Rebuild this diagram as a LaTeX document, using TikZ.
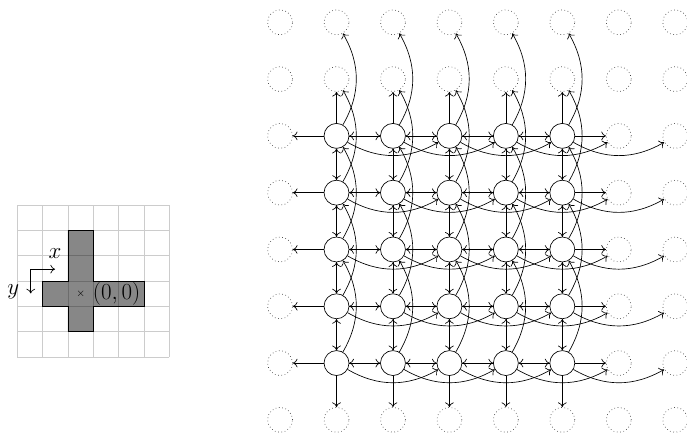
\documentclass[tikz,border=0pt]{standalone}
\usetikzlibrary{arrows.meta}

\begin{document}
\begin{tikzpicture}[->, >={To[length=3.5pt,width=6.5pt]}, line width=0.5pt, auto,
  site/.style={circle, draw, minimum size=0.66cm, inner sep=0pt},
  ghost/.style={site, dotted, draw=black!75}]
\useasboundingbox (0,0) rectangle (18.17,-11.48);

% stencil on the left
\begin{scope}[shift={(0.458,-5.423)}, scale=0.67, -, font=\fontsize{16.5}{19}\selectfont]
\draw[black!20] (0,0) grid (6,-6);
\draw[fill=black, fill opacity=0.47] (2,-1) -- (3,-1) -- (3,-3) -- (5,-3) -- (5,-4)
  -- (3,-4) -- (3,-5) -- (2,-5) -- (2,-4) -- (1,-4) -- (1,-3) -- (2,-3) -- cycle;
\node[inner sep=0pt, font=\footnotesize] (mark) at (2.5,-3.5) {$\times$};
\node[anchor=west, inner sep=0pt] (origin) at (2.97,-3.5) {$(0,0)$};
\coordinate (corner) at (0.53,-2.53);
\coordinate (xend) at (1.49,-2.53);
\coordinate (yend) at (0.53,-3.49);
\node (xlabel) at (1.49,-1.9) {$x$};
\node (ylabel) at (-0.16,-3.42) {$y$};
\draw[->] (corner) -- (xend);
\draw[->] (corner) -- (yend);
\end{scope}

% lattice on the right
\foreach \c in {0,...,7}
  \foreach \r in {0,1,7}
    \node[ghost] (\c-\r) at (7.407+1.493*\c, -0.59-1.502*\r) {};
\foreach \c in {0,6,7}
  \foreach \r in {2,...,6}
    \node[ghost] (\c-\r) at (7.407+1.493*\c, -0.59-1.502*\r) {};
\foreach \c in {1,...,5}
  \foreach \r in {2,...,6}
    \node[site] (\c-\r) at (7.407+1.493*\c, -0.59-1.502*\r) {};

\foreach \c in {1,...,5}
  \foreach \r in {2,...,6} {
    \pgfmathtruncatemacro{\cl}{\c-1}
    \pgfmathtruncatemacro{\cr}{\c+1}
    \pgfmathtruncatemacro{\crr}{\c+2}
    \pgfmathtruncatemacro{\ru}{\r-1}
    \pgfmathtruncatemacro{\ruu}{\r-2}
    \pgfmathtruncatemacro{\rd}{\r+1}
    \path (\c-\r) edge (\cl-\r)
          (\c-\r) edge (\cr-\r)
          (\c-\r) edge[bend right] (\crr-\r)
          (\c-\r) edge (\c-\ru)
          (\c-\r) edge[bend right] (\c-\ruu)
          (\c-\r) edge (\c-\rd);
  }
\end{tikzpicture}
\end{document}
